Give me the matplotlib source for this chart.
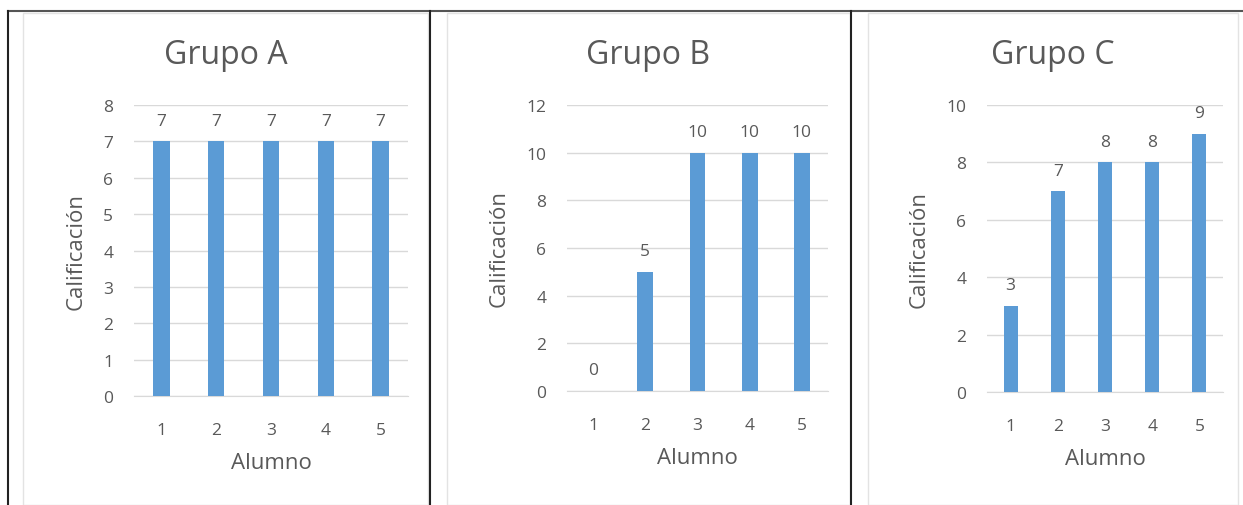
import matplotlib
matplotlib.use("Agg")
import matplotlib.pyplot as plt
from matplotlib.lines import Line2D
from matplotlib.patches import Rectangle

plt.rcParams['font.family'] = ['Open Sans', 'DejaVu Sans']

alumnos = ['1', '2', '3', '4', '5']
grupo_a = [7, 7, 7, 7, 7]
grupo_b = [0, 5, 10, 10, 10]
grupo_c = [3, 7, 8, 8, 9]
titulos = ['Grupo A', 'Grupo B', 'Grupo C']
ymax = [8, 12, 10]
ypaso = [1, 2, 2]

azul = '#5B9BD5'
gris_txt = '#595959'
gris_grid = '#D9D9D9'

W, H = 1243, 506
fig = plt.figure(figsize=(W / 100, H / 100), dpi=100)

def px(l, t, r, b):
    return [l / W, 1 - b / H, (r - l) / W, (b - t) / H]

# posiciones en pixeles: ejes y area del grafico
ejes = [(134, 106, 408, 397), (567, 106, 828, 392), (987, 106, 1223, 393)]
areas = [(23, 14, 428, 506), (447, 14, 850, 506), (868, 14, 1238, 506)]

datos = [grupo_a, grupo_b, grupo_c]
for i, vals in enumerate(datos):
    l, t, r, b = areas[i]
    fig.add_artist(Rectangle((l / W, 0), (r - l) / W, 1 - t / H, transform=fig.transFigure,
                             fill=False, edgecolor='#E3E3E3', lw=1))
    ax = fig.add_axes(px(*ejes[i]))
    x = range(len(alumnos))
    ax.bar(x, vals, width=0.3, color=azul, zorder=3)
    for xi, v in zip(x, vals):
        ax.annotate(str(v), (xi, v), xytext=(0, 9), textcoords='offset points',
                    ha='center', va='bottom', fontsize=12.5, color=gris_txt)
    ax.set_xlim(-0.5, len(alumnos) - 0.5)
    ax.set_ylim(0, ymax[i])
    ax.set_yticks(range(0, ymax[i] + 1, ypaso[i]))
    ax.set_xticks(list(x))
    ax.set_xticklabels(alumnos)
    ax.grid(axis='y', color=gris_grid, lw=1, zorder=0)
    for s in ['top', 'left', 'right']:
        ax.spines[s].set_visible(False)
    ax.spines['bottom'].set_color(gris_grid)
    ax.tick_params(length=0, labelsize=12.5, labelcolor=gris_txt, pad=19)
    ax.tick_params(axis='y', pad=15)
    ax.set_xlabel('Alumno', fontsize=16, color=gris_txt, labelpad=10)
    ax.set_ylabel('Calificación', fontsize=16, color=gris_txt, labelpad=12)
    fig.text((l + r) / 2 / W, 1 - 55 / H, titulos[i], ha='center', va='center',
             fontsize=23, color=gris_txt)

# bordes de la tabla
fig.add_artist(Line2D([8 / W, 1], [1 - 12 / H] * 2, color='#555555', lw=1.5))
for xv in [8, 430, 851]:
    fig.add_artist(Line2D([xv / W] * 2, [0, 1 - 12 / H], color='#222222', lw=1.5))

fig.savefig('out.png', dpi=100)
